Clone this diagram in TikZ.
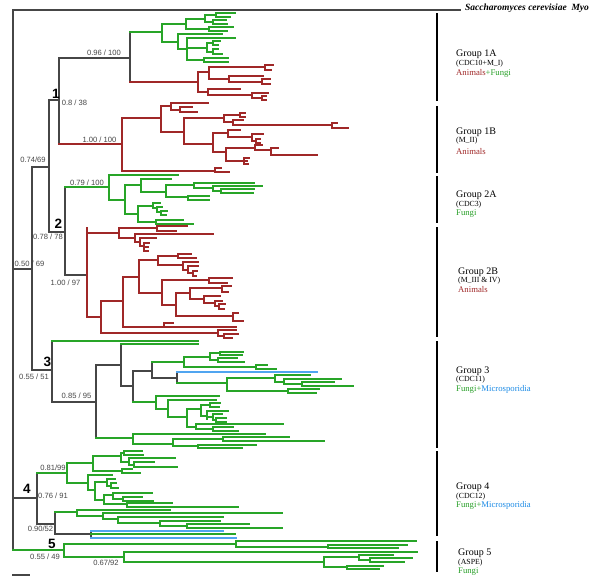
\documentclass[tikz,border=0pt]{standalone}
\usepackage{fontspec}
\setmainfont{Liberation Serif}
\setsansfont{Liberation Sans}
\definecolor{tgreen}{RGB}{40,165,40}
\definecolor{tred}{RGB}{160,40,40}
\definecolor{tblue}{RGB}{80,165,240}
\definecolor{tgray}{RGB}{70,70,70}
\definecolor{lred}{RGB}{160,40,40}
\definecolor{lgreen}{RGB}{40,160,40}
\definecolor{lblue}{RGB}{30,140,230}
\newcommand\HL[3]{\draw (#1,#3) -- (#2,#3);}
\newcommand\VL[3]{\draw (#1,#2) -- (#1,#3);}
\tikzset{
 gr/.style={draw=tgray, line width=1.1pt, line cap=rect},
 gn/.style={draw=tgreen, line width=1.1pt, line cap=rect},
 rd/.style={draw=tred, line width=1.1pt, line cap=rect},
 bl/.style={draw=tblue, line width=1.3pt, line cap=rect},
 gbar/.style={line width=2.2pt, draw=black},
 supp/.style={font=\sffamily\fontsize{7.6}{8}\selectfont, text=tgray, inner sep=0pt},
 cnum/.style={font=\sffamily\bfseries\fontsize{13.5}{14}\selectfont, inner sep=0pt},
 gname/.style={anchor=base west, inner sep=0pt, font=\fontsize{10}{11}\selectfont},
 gsub/.style={anchor=base west, inner sep=0pt, font=\fontsize{7.8}{9}\selectfont},
 gtax/.style={anchor=base west, inner sep=0pt, font=\fontsize{8.7}{10}\selectfont},
}
\begin{document}
\begin{tikzpicture}[x=1pt,y=-1pt]
\useasboundingbox (0,0) rectangle (600,581);
\fill[white] (0,0) rectangle (600,581);
% ---------------- backbone ----------------
\begin{scope}[every path/.style={gr}]
\HL{13}{460}{10}
\VL{13}{10}{550}
\HL{13}{32}{269}
\VL{32}{167}{370}
\HL{32}{49}{167}
\VL{49}{100}{232}
\HL{49}{59}{100}
\VL{59}{58}{144}
\HL{59}{130}{58}
\VL{130}{32}{82}
\HL{49}{65}{232}
\VL{65}{187}{275}
\HL{65}{87}{275}
\HL{32}{52}{370}
\VL{52}{341}{402}
\HL{52}{96}{402}
\VL{96}{365}{438}
\HL{96}{121}{365}
\VL{121}{344}{386}
\HL{121}{133}{386}
\VL{133}{371}{402}
\HL{133}{152}{371}
\VL{152}{362}{378}
\HL{152}{177}{378}
\VL{177}{372}{383}
\HL{13}{37}{498}
\VL{37}{473}{524}
\HL{37}{55}{524}
\VL{55}{512}{534}
\HL{55}{91}{534}
\VL{91}{531}{538}
\HL{13}{29}{575}
\end{scope}
% ---------------- Group 1A green ----------------
\begin{scope}[every path/.style={gn}]
\HL{130}{162}{32}\VL{162}{24}{42}
\HL{162}{186}{24}\VL{186}{19}{29}
\HL{186}{205}{19}\VL{205}{15}{22}
\HL{205}{216}{15}\VL{216}{13}{17}\HL{216}{235}{13}\HL{216}{230}{17}
\HL{205}{213}{22}\VL{213}{20}{24}\HL{213}{226}{20}\HL{213}{227}{24}
\HL{186}{209}{29}\VL{209}{27}{31}\HL{209}{233}{27}\HL{209}{227}{31}
\HL{162}{178}{42}\VL{178}{34}{49}
\HL{178}{222}{34}
\HL{178}{187}{49}\VL{187}{38}{60}
\HL{187}{235}{38}
\HL{187}{207}{48}\VL{207}{43}{52}
\HL{207}{213}{43}\VL{213}{41}{45}\HL{213}{220}{41}\HL{213}{218}{45}
\HL{207}{213}{52}\VL{213}{49}{54}\HL{213}{218}{49}\HL{213}{222}{54}
\HL{187}{204}{60}\VL{204}{58}{62}\HL{204}{228}{58}\HL{204}{228}{62}
\end{scope}
% ---------------- Group 1A red ----------------
\begin{scope}[every path/.style={rd}]
\HL{130}{198}{82}\VL{198}{72}{92}
\HL{198}{209}{72}\VL{209}{67}{79}
\HL{209}{265}{67}\VL{265}{65}{70}\HL{265}{273}{65}\HL{265}{271}{70}
\HL{209}{229}{79}\VL{229}{76}{82}
\HL{229}{263}{76}
\HL{229}{262}{82}\VL{262}{79}{84}\HL{262}{270}{79}\HL{262}{270}{84}
\HL{198}{208}{92}\VL{208}{89}{95}
\HL{208}{240}{89}
\HL{208}{252}{95}\VL{252}{93}{98}
\HL{252}{268}{93}
\HL{252}{262}{98}\VL{262}{96}{100}\HL{262}{266}{96}\HL{262}{266}{100}
\end{scope}
% ---------------- Group 1B red ----------------
\begin{scope}[every path/.style={rd}]
\HL{59}{122}{144}\VL{122}{118}{171}
\HL{122}{161}{118}\VL{161}{106}{132}
\HL{161}{171}{106}\VL{171}{103}{110}
\HL{171}{208}{103}
\HL{171}{180}{110}\VL{180}{107}{112}\HL{180}{192}{107}\HL{180}{197}{112}
\HL{161}{184}{132}\VL{184}{118}{144}
\HL{184}{224}{118}\VL{224}{115}{122}
\HL{224}{240}{115}\VL{240}{113}{117}\HL{240}{245}{113}\HL{240}{245}{117}
\HL{224}{233}{122}\VL{233}{120}{125}
\HL{233}{243}{120}
\HL{233}{332}{125}\VL{332}{123}{128}\HL{332}{337}{123}\HL{332}{348}{128}
\HL{184}{213}{144}\VL{213}{133}{152}
\HL{213}{228}{133}\VL{228}{130}{137}
\HL{228}{240}{130}
\HL{228}{252}{137}\VL{252}{134}{141}
\HL{252}{263}{134}
\HL{252}{256}{141}\VL{256}{139}{143}\HL{256}{260}{139}\HL{256}{260}{143}
\HL{213}{226}{152}\VL{226}{148}{161}
\HL{226}{255}{148}\VL{255}{145}{150}
\HL{255}{262}{145}
\HL{255}{271}{150}\VL{271}{148}{155}
\HL{271}{278}{148}
\HL{271}{317}{155}
\HL{226}{244}{161}\VL{244}{158}{164}\HL{244}{249}{158}\HL{244}{247}{161}\HL{244}{248}{164}
\HL{122}{215}{171}\VL{215}{168}{172}\HL{215}{221}{168}\HL{215}{229}{172}
\end{scope}
% ---------------- Group 2A green ----------------
\begin{scope}[every path/.style={gn}]
\HL{65}{109}{187}\VL{109}{175}{200}
\HL{109}{178}{175}
\HL{109}{125}{200}\VL{125}{185}{214}
\HL{125}{141}{185}\VL{141}{179}{192}
\HL{141}{171}{179}
\HL{141}{166}{192}\VL{166}{185}{197}
\HL{166}{194}{185}\VL{194}{183}{188}
\HL{194}{254}{183}
\HL{194}{213}{188}\VL{213}{186}{191}
\HL{213}{262}{186}
\HL{213}{221}{191}\VL{221}{189}{193}\HL{221}{254}{189}\HL{221}{253}{193}
\HL{166}{188}{197}\VL{188}{196}{200}\HL{188}{209}{196}\HL{188}{209}{200}
\HL{125}{138}{214}\VL{138}{206}{222}
\HL{138}{153}{206}\VL{153}{203}{208}
\HL{153}{160}{203}
\HL{153}{157}{208}\VL{157}{207}{212}
\HL{157}{162}{207}
\HL{157}{161}{212}\VL{161}{211}{215}\HL{161}{167}{211}\HL{161}{166}{215}
\HL{138}{156}{222}\VL{156}{220}{224}\HL{156}{183}{220}\HL{156}{193}{224}
\end{scope}
% ---------------- Group 2B red ----------------
\begin{scope}[every path/.style={rd}]
\VL{87}{228}{317}
\HL{87}{119}{233}\VL{119}{228}{238}
\HL{119}{157}{228}\VL{157}{226}{231}\HL{157}{187}{226}\HL{157}{176}{231}
\HL{119}{135}{238}\VL{135}{234}{242}
\HL{135}{213}{234}
\HL{135}{140}{242}\VL{140}{238}{246}
\HL{140}{156}{238}
\HL{140}{144}{246}\VL{144}{243}{251}\HL{144}{149}{243}\HL{144}{148}{247}\HL{144}{148}{251}
\HL{87}{101}{317}\VL{101}{301}{333}
\HL{101}{123}{301}\VL{123}{277}{327}
\HL{123}{139}{277}\VL{139}{260}{293}
\HL{139}{158}{260}\VL{158}{256}{265}
\HL{158}{178}{256}\VL{178}{254}{258}\HL{178}{191}{254}\HL{178}{196}{258}
\HL{158}{183}{265}\VL{183}{262}{270}
\HL{183}{198}{262}
\HL{183}{188}{270}\VL{188}{266}{273}
\HL{188}{198}{266}
\HL{188}{193}{273}\VL{193}{271}{276}\HL{193}{197}{271}\HL{193}{196}{276}
\HL{139}{162}{293}\VL{162}{280}{305}
\HL{162}{209}{280}\VL{209}{278}{283}\HL{209}{232}{278}\HL{209}{227}{283}
\HL{162}{176}{305}\VL{176}{293}{316}
\HL{176}{190}{293}\VL{190}{288}{299}
\HL{190}{222}{288}\VL{222}{286}{292}\HL{222}{231}{286}\HL{222}{228}{292}
\HL{190}{204}{299}\VL{204}{296}{303}
\HL{204}{220}{296}
\HL{204}{215}{303}\VL{215}{301}{306}
\HL{215}{222}{301}
\HL{215}{219}{306}\VL{219}{304}{309}\HL{219}{225}{304}\HL{219}{224}{309}
\HL{176}{233}{316}\VL{233}{313}{321}\HL{233}{238}{313}\HL{233}{243}{321}
\HL{123}{236}{327}\VL{164}{323}{327}\HL{164}{173}{323}
\HL{101}{218}{333}\VL{218}{330}{336}
\HL{218}{236}{330}
\HL{218}{224}{336}\VL{224}{334}{338}\HL{224}{238}{334}\HL{224}{232}{338}
\end{scope}
% ---------------- Group 3 ----------------
\begin{scope}[every path/.style={gn}]
\HL{52}{198}{341}
\HL{121}{198}{344}
\HL{152}{184}{362}\VL{184}{357}{367}
\HL{184}{210}{357}\VL{210}{353}{360}
\HL{210}{220}{353}\VL{220}{352}{355}\HL{220}{243}{352}\HL{220}{242}{355}
\HL{210}{218}{360}\VL{218}{358}{362}\HL{218}{237}{358}\HL{218}{244}{362}
\HL{184}{256}{367}\VL{256}{365}{369}\HL{256}{267}{365}\HL{256}{276}{369}
\HL{177}{227}{383}\VL{227}{378}{391}
\HL{227}{275}{378}\VL{275}{375}{382}
\HL{275}{310}{375}
\HL{275}{284}{382}\VL{284}{379}{384}
\HL{284}{341}{379}
\HL{284}{302}{384}\VL{302}{382}{386}\HL{302}{334}{382}\HL{302}{353}{386}
\HL{227}{288}{391}\VL{288}{389}{393}\HL{288}{319}{389}\HL{288}{316}{393}
\HL{133}{156}{402}\VL{156}{396}{409}
\HL{156}{219}{396}
\HL{156}{168}{409}\VL{168}{400}{417}
\HL{168}{216}{400}
\HL{168}{187}{417}\VL{187}{409}{427}
\HL{187}{201}{409}\VL{201}{405}{416}
\HL{201}{210}{405}\VL{210}{403}{407}\HL{210}{220}{403}\HL{210}{219}{407}
\HL{201}{207}{416}\VL{207}{411}{419}
\HL{207}{228}{411}
\HL{207}{213}{417}\VL{213}{414}{420}
\HL{213}{222}{414}
\HL{213}{216}{420}\VL{216}{418}{422}\HL{216}{226}{418}\HL{216}{226}{422}
\HL{187}{196}{427}\VL{196}{424}{429}
\HL{196}{283}{424}
\HL{196}{213}{429}\VL{213}{427}{431}\HL{213}{233}{427}\HL{213}{238}{431}
\HL{96}{133}{438}\VL{133}{434}{444}
\HL{133}{265}{434}
\HL{133}{173}{444}\VL{173}{439}{446}
\HL{173}{223}{439}\VL{223}{437}{441}\HL{223}{289}{437}\HL{223}{324}{441}
\HL{173}{198}{446}\VL{198}{445}{448}\HL{198}{256}{445}\HL{198}{242}{448}
\end{scope}
\begin{scope}[every path/.style={bl}]
\HL{177}{317}{372}
\end{scope}
% ---------------- Group 4 ----------------
\begin{scope}[every path/.style={gn}]
\HL{37}{67}{473}\VL{67}{463}{483}
\HL{67}{93}{463}\VL{93}{456}{471}
\HL{93}{121}{456}\VL{121}{453}{462}
\HL{121}{124}{453}\VL{124}{451}{455}\HL{124}{142}{451}\HL{124}{143}{455}
\HL{121}{129}{462}\VL{129}{458}{465}
\HL{129}{175}{458}
\HL{129}{134}{465}\VL{134}{462}{467}\HL{134}{154}{462}\HL{134}{177}{467}
\HL{93}{122}{471}\VL{122}{469}{473}\HL{122}{132}{469}\HL{122}{140}{473}
\HL{67}{88}{483}\VL{88}{475}{490}
\HL{88}{112}{475}
\HL{88}{95}{490}\VL{95}{482}{500}
\HL{95}{107}{482}\VL{107}{479}{486}
\HL{107}{115}{479}
\HL{107}{111}{486}\VL{111}{483}{488}\HL{111}{116}{483}\HL{111}{118}{488}
\HL{95}{104}{500}\VL{104}{495}{504}
\HL{104}{113}{495}\VL{113}{493}{499}
\HL{113}{152}{493}
\HL{113}{123}{499}\VL{123}{497}{501}\HL{123}{142}{497}\HL{123}{153}{501}
\HL{104}{127}{504}\VL{127}{503}{507}\HL{127}{172}{503}\HL{127}{238}{507}
\HL{55}{77}{512}\VL{77}{510}{516}
\HL{77}{170}{510}
\HL{77}{103}{516}\VL{103}{513}{519}
\HL{103}{282}{513}
\HL{103}{118}{519}\VL{118}{517}{523}
\HL{118}{223}{517}
\HL{118}{160}{523}\VL{160}{521}{526}
\HL{160}{220}{521}
\HL{160}{187}{526}\VL{187}{524}{528}\HL{187}{249}{524}\HL{187}{282}{528}
\HL{91}{235}{534}
\end{scope}
\begin{scope}[every path/.style={bl}]
\HL{91}{223}{531}
\HL{91}{236}{538}
\end{scope}
% ---------------- Group 5 ----------------
\begin{scope}[every path/.style={gn}]
\HL{13}{64}{550}\VL{64}{544}{557}
\HL{64}{236}{544}\VL{236}{541}{547}
\HL{236}{416}{541}
\HL{236}{328}{547}\VL{328}{545}{548}\HL{328}{407}{545}\HL{328}{398}{548}
\HL{64}{124}{557}\VL{124}{552}{562}
\HL{124}{417}{552}
\HL{124}{324}{562}\VL{324}{557}{567}
\HL{324}{359}{557}\VL{359}{555}{560}
\HL{359}{393}{555}
\HL{359}{370}{560}\VL{370}{558}{562}\HL{370}{412}{558}\HL{370}{404}{562}
\HL{324}{347}{567}\VL{347}{566}{569}\HL{347}{383}{566}\HL{347}{379}{569}
\end{scope}
% ---------------- group bars ----------------
\draw[gbar] (437,13) -- (437,101);
\draw[gbar] (437,106) -- (437,173);
\draw[gbar] (437,176) -- (437,223);
\draw[gbar] (437,227) -- (437,337);
\draw[gbar] (437,341) -- (437,448);
\draw[gbar] (437,451) -- (437,536);
\draw[gbar] (437,541) -- (437,572);
% ---------------- outgroup ----------------
\node[anchor=base west, inner sep=0pt, font=\bfseries\itshape\fontsize{9.5}{10}\selectfont] (sc) at (465,10.8) {Saccharomyces cerevisiae\ \ Myo};
% ---------------- group labels ----------------
\node[gname] (g1a) at (456,56) {Group 1A};
\node[gsub] (s1a) at (456,65) {(CDC10+M\_I)};
\node[gtax] (t1a) at (456,75) {\textcolor{lred}{Animals}\textcolor{lgreen}{+Fungi}};
\node[gname] (g1b) at (456,134) {Group 1B};
\node[gsub] (s1b) at (456,142) {(M\_II)};
\node[gtax] (t1b) at (456,154) {\textcolor{lred}{Animals}};
\node[gname] (g2a) at (456,197) {Group 2A};
\node[gsub] (s2a) at (456,206) {(CDC3)};
\node[gtax] (t2a) at (456,215) {\textcolor{lgreen}{Fungi}};
\node[gname] (g2b) at (458,274) {Group 2B};
\node[gsub] (s2b) at (458,282) {(M\_III \& IV)};
\node[gtax] (t2b) at (458,292) {\textcolor{lred}{Animals}};
\node[gname] (g3) at (456,373) {Group 3};
\node[gsub] (s3) at (456,381) {(CDC11)};
\node[gtax] (t3) at (456,391) {\textcolor{lgreen}{Fungi+}\textcolor{lblue}{Microsporidia}};
\node[gname] (g4) at (456,489) {Group 4};
\node[gsub] (s4) at (456,498) {(CDC12)};
\node[gtax] (t4) at (456,507) {\textcolor{lgreen}{Fungi+}\textcolor{lblue}{Microsporidia}};
\node[gname] (g5) at (458,555) {Group 5};
\node[gsub] (s5) at (458,564) {(ASPE)};
\node[gtax] (t5) at (458,573) {\textcolor{lgreen}{Fungi}};
% ---------------- support values ----------------
\node[supp] (v1) at (104,53) {0.96 / 100};
\node[supp] (v2) at (74.5,103) {0.8 / 38};
\node[supp] (v3) at (99.5,140) {1.00 / 100};
\node[supp] (v4) at (33,160) {0.74/69};
\node[supp] (v5) at (87,183) {0.79 / 100};
\node[supp] (v6) at (48,237) {0.78 / 78};
\node[supp] (v7) at (29.5,264) {0.50 / 69};
\node[supp] (v8) at (65.5,283) {1.00 / 97};
\node[supp] (v9) at (34,377) {0.55 / 51};
\node[supp] (v10) at (76.5,396) {0.85 / 95};
\node[supp] (v11) at (53,468) {0.81/99};
\node[supp] (v12) at (53,496) {0.76 / 91};
\node[supp] (v13) at (40.5,529) {0.90/52};
\node[supp] (v14) at (45,557) {0.55 / 49};
\node[supp] (v15) at (106,563) {0.67/92};
% ---------------- clade numbers ----------------
\node[cnum] (c1) at (56,94) {1};
\node[cnum] (c2) at (58.5,224) {2};
\node[cnum] (c3) at (47.5,362) {3};
\node[cnum] (c4) at (27,489) {4};
\node[cnum] (c5) at (52,544) {5};
\end{tikzpicture}
\end{document}
